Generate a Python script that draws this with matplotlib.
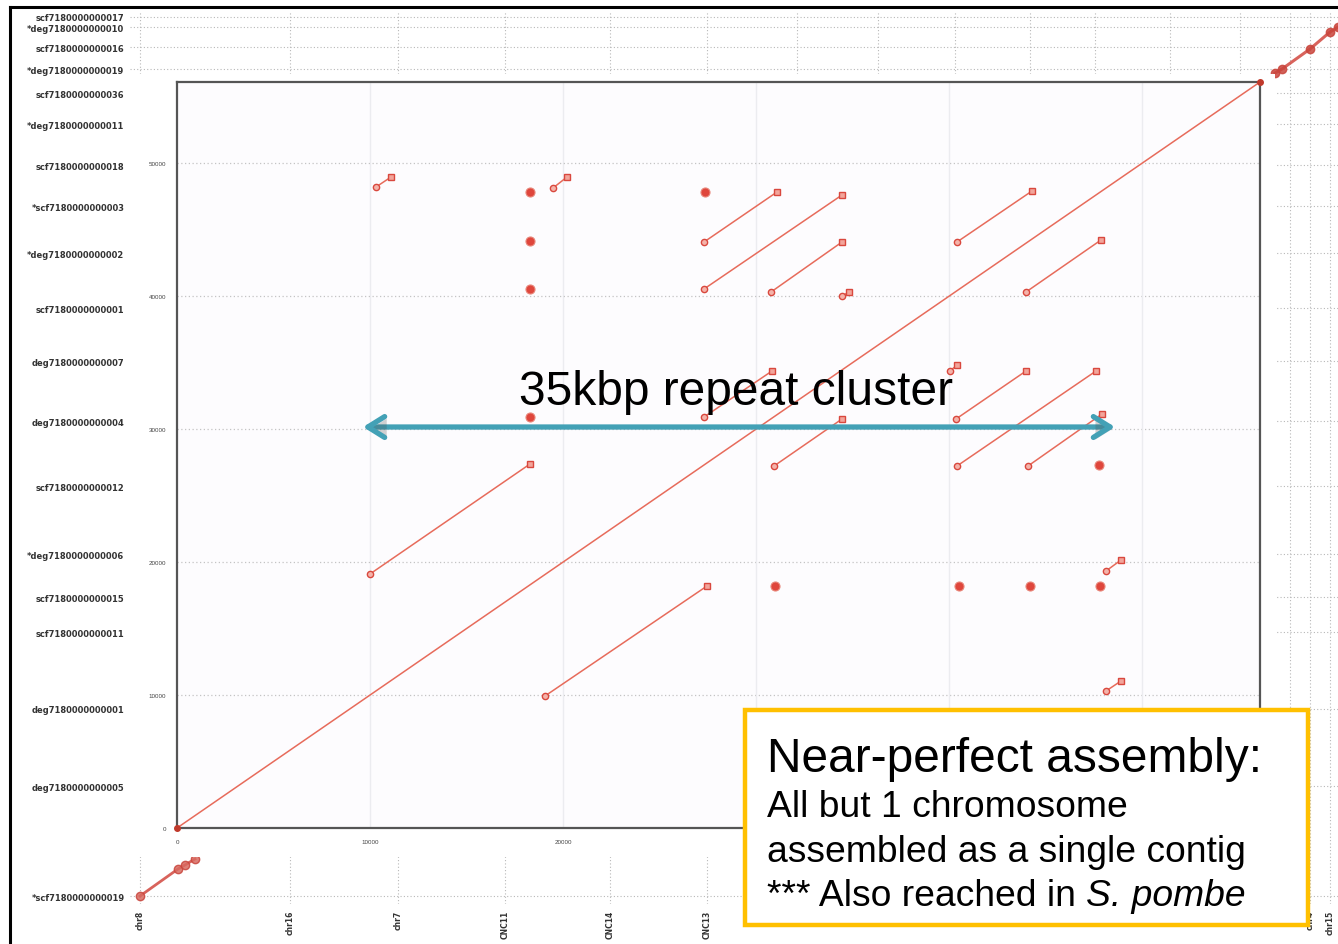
import matplotlib
matplotlib.use("Agg")
import matplotlib.pyplot as plt
import matplotlib.patheffects as pe
from matplotlib.patches import Rectangle
from matplotlib.lines import Line2D

plt.rcParams['font.family'] = ['Liberation Sans', 'DejaVu Sans']

# ------------------------------------------------------------------ data
GENOME_LEN = 56100
main_ticks = [0, 10000, 20000, 30000, 40000, 50000]
main_ticklabels = ["0", "10000", "20000", "30000", "40000", "50000"]

# alignment segments (start -> end), bp
seg_x0 = [10308, 19477, 27299, 27299, 30769, 34447, 40404, 43978, 9997,
          27299, 30925, 40041, 40352, 40404, 44082, 19062, 48122, 48122]
seg_y0 = [48203, 48128, 44067, 40533, 40307, 40006, 44067, 40307, 19101,
          30907, 27222, 34366, 30757, 27222, 27222, 9926, 19326, 10302]
seg_x1 = [11085, 20202, 31080, 34447, 34447, 34810, 44289, 47863, 18285,
          30821, 34447, 40404, 43978, 47604, 47915, 27454, 48899, 48899]
seg_y1 = [48955, 48955, 47827, 47602, 44067, 40307, 47902, 44218, 27373,
          34366, 30757, 34818, 34366, 34366, 31133, 18198, 20154, 11054]

# very short alignments (dots)
dot_x = [18285, 27350, 18285, 18285, 18285, 47760, 30976, 40508, 44185, 47811]
dot_y = [47827, 47827, 44142, 40533, 30907, 27298, 18198, 18198, 18198, 18198]

# surrounding (zoomed-out) dot plot context
contig_y = [61000, 60200, 58731, 57077, 55272, 52941, 49858,
            46774, 43240, 39104, 35118, 30606, 25718, 20605, 17371, 14739,
            8949, 3158, -5114]
contig_labels = ["scf7180000000017", "*deg7180000000010",
                 "scf7180000000016", "*deg7180000000019",
                 "scf7180000000036", "*deg7180000000011", "scf7180000000018",
                 "*scf7180000000003", "*deg7180000000002", "scf7180000000001",
                 "deg7180000000007", "deg7180000000004", "scf7180000000012",
                 "*deg7180000000006", "scf7180000000015", "scf7180000000011",
                 "deg7180000000001", "deg7180000000005", "*scf7180000000019"]
bound_x = [-1917, 5853, 11448, 16990, 22429, 27454, 32116, 36312, 40300,
           44185, 47552, 51437, 55063, 57653, 58689, 59725]
# labels hidden behind the call-out box are left blank
bound_labels = ["chr8", "chr16", "chr7", "CNC11", "CNC14", "CNC13", "",
                "", "", "", "", "", "", "", "chr4", "chr15"]
outer_tr_x = [56876, 57239, 58689, 59725, 60140]
outer_tr_y = [56776, 57077, 58581, 59859, 60235]
outer_bl_x = [-1917, 52, 414, 932]
outer_bl_y = [-5114, -3083, -2782, -2331]

repeat_x0, repeat_x1 = 9635, 48590
repeat_y = 30155
repeat_label_x, repeat_label_y = 28960, 31885

# ------------------------------------------------------------------ layout
W, H = 1338, 945
MAIN_PX = (177, 83, 1260, 829)
BG_PX = (130, 12, 1338, 905)
PANEL_PX = (130, 75, 1275, 858)
BOX_PX = (745, 711, 1308, 926)


def frac(x0, y0, x1, y1):
    return [x0 / W, 1 - y1 / H, (x1 - x0) / W, (y1 - y0) / H]


sx = (MAIN_PX[2] - MAIN_PX[0]) / GENOME_LEN
sy = (MAIN_PX[3] - MAIN_PX[1]) / GENOME_LEN

RED_LINE = '#e76b5b'
RED_DOT = '#df463c'
GRID = '#b8b8b8'

fig = plt.figure(figsize=(W / 100, H / 100), dpi=100)
fig.patch.set_facecolor('white')

# ---- background context axes
axb = fig.add_axes(frac(*BG_PX))
axb.set_zorder(0)
axb.set_xlim((BG_PX[0] - MAIN_PX[0]) / sx, (BG_PX[2] - MAIN_PX[0]) / sx)
axb.set_ylim((MAIN_PX[3] - BG_PX[3]) / sy, (MAIN_PX[3] - BG_PX[1]) / sy)
for s in axb.spines.values():
    s.set_visible(False)
for bx in bound_x:
    axb.axvline(bx, color=GRID, lw=0.8, ls=(0, (1, 2)))
for cy in contig_y:
    axb.axhline(cy, color=GRID, lw=0.8, ls=(0, (1, 2)))
axb.set_yticks(contig_y)
axb.set_yticklabels(contig_labels, fontsize=6, color='#333333',
                    fontweight='bold', family='DejaVu Sans')
axb.set_xticks(bound_x)
axb.set_xticklabels(bound_labels, fontsize=5.5, color='#333333',
                    rotation=90, fontweight='bold', family='DejaVu Sans')
axb.tick_params(length=0, pad=4)
axb.plot(outer_tr_x, outer_tr_y, color='#d2483f', lw=2.2, marker='o',
         ms=6, mfc='#c9453c', mec='#c9453c', alpha=0.85)
axb.plot(outer_bl_x, outer_bl_y, color='#d2483f', lw=2.0, marker='o',
         ms=6, mfc='#d86a60', mec='#c9453c', alpha=0.85)

# ---- white panel around the zoomed plot
pf = frac(*PANEL_PX)
fig.add_artist(Rectangle((pf[0], pf[1]), pf[2], pf[3],
                         transform=fig.transFigure, fc='white', ec='none',
                         zorder=0.5))

# ---- main dot plot
ax = fig.add_axes(frac(*MAIN_PX))
ax.set_zorder(1)
ax.set_facecolor('#fdfcfe')
ax.set_xlim(0, GENOME_LEN)
ax.set_ylim(0, GENOME_LEN)
ax.set_xticks(main_ticks)
ax.set_xticklabels(main_ticklabels[:3] + [""] * 3)
ax.set_yticks(main_ticks)
ax.set_yticklabels(main_ticklabels)
ax.tick_params(length=0, labelsize=4.5, labelcolor='#444444', pad=8)
for t in main_ticks[1:]:
    ax.axhline(t, color='#c4c4c4', lw=0.9, ls=(0, (1, 2)), zorder=0.5)
    ax.axvline(t, color='#ececf0', lw=1.0, zorder=0.5)
for s in ax.spines.values():
    s.set_color('#555555')
    s.set_linewidth(1.6)

ax.plot([0, GENOME_LEN], [0, GENOME_LEN], color=RED_LINE, lw=1.1, zorder=3)
ax.plot([0, GENOME_LEN], [0, GENOME_LEN], ls='none', marker='o', ms=4,
        mfc='#c0392b', mec='#c0392b', zorder=3, clip_on=False)
for x0, y0, x1, y1 in zip(seg_x0, seg_y0, seg_x1, seg_y1):
    ax.plot([x0, x1], [y0, y1], color=RED_LINE, lw=1.1, zorder=3)
ax.plot(seg_x0, seg_y0, ls='none', marker='o', ms=4.5, mfc='#f4b3aa',
        mec='#d9483e', mew=1.0, zorder=4)
ax.plot(seg_x1, seg_y1, ls='none', marker='s', ms=4.5, mfc='#f2a59b',
        mec='#d9483e', mew=1.0, zorder=4)
ax.plot(dot_x, dot_y, ls='none', marker='o', ms=6.5, mfc=RED_DOT,
        mec='#e8867a', mew=0.8, zorder=4)

# ---- repeat cluster annotation
shadow = [pe.SimplePatchShadow(offset=(1.5, -1.5), alpha=0.25), pe.Normal()]
ax.annotate('', xy=(repeat_x1, repeat_y), xytext=(repeat_x0, repeat_y),
            arrowprops=dict(arrowstyle='<->,head_length=1.2,head_width=0.75',
                            color='#43a1b6', lw=3.8, shrinkA=0, shrinkB=0,
                            path_effects=shadow),
            zorder=6)
ax.text(repeat_label_x, repeat_label_y, '35kbp repeat cluster',
        fontsize=34.5, ha='center', va='baseline', color='black', zorder=7)

# ---- yellow call-out box
bx = frac(*BOX_PX)
fig.add_artist(Rectangle((bx[0], bx[1]), bx[2], bx[3],
                         transform=fig.transFigure, fc='white',
                         ec='#ffc000', lw=3.2, zorder=3))
tx = 767 / W
fig.text(tx, 1 - 772 / H, 'Near-perfect assembly:', fontsize=34.5,
         va='baseline', ha='left', zorder=4)
fig.text(tx, 1 - 817 / H, 'All but 1 chromosome', fontsize=26.8,
         va='baseline', ha='left', zorder=4)
fig.text(tx, 1 - 862 / H, 'assembled as a single contig', fontsize=26.8,
         va='baseline', ha='left', zorder=4)
t_lead = fig.text(tx, 1 - 906 / H, '*** Also reached in', fontsize=26.8,
                  va='baseline', ha='left', zorder=4)
t_sp = fig.text(0, 0, 'n n', fontsize=26.8, alpha=0)
t_n = fig.text(0, 0, 'nn', fontsize=26.8, alpha=0)
fig.canvas.draw()
r = fig.canvas.get_renderer()
space_px = (t_sp.get_window_extent(r).width - t_n.get_window_extent(r).width)
x_end = t_lead.get_window_extent(r).x1 + space_px
t_sp.remove()
t_n.remove()
fig.text(x_end / (W), 1 - 906 / H, 'S. pombe', fontsize=26.8,
         style='italic', va='baseline', ha='left', zorder=4)

# ---- screenshot frame
fig.add_artist(Line2D([10 / W, 1], [1 - 8 / H, 1 - 8 / H],
                      transform=fig.transFigure, color='black', lw=2.2,
                      zorder=5))
fig.add_artist(Line2D([10 / W, 10 / W], [0, 1 - 8 / H],
                      transform=fig.transFigure, color='black', lw=2.2,
                      zorder=5))

fig.savefig('out.png', dpi=100, facecolor='white')
